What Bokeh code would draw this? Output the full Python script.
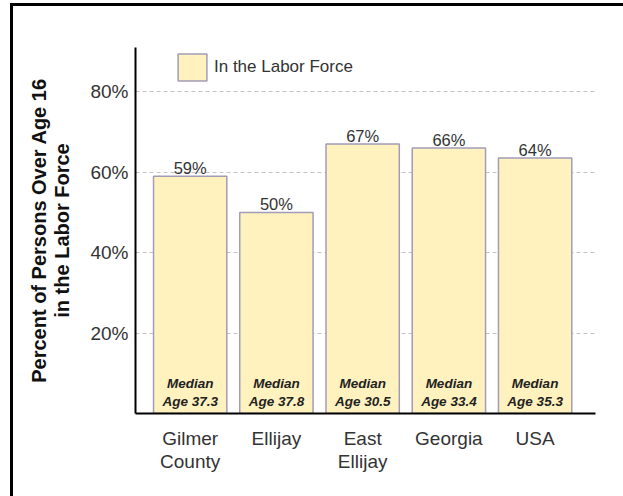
from bokeh.plotting import figure
from bokeh.models import ColumnDataSource, FixedTicker, Legend, LegendItem, Range1d
from bokeh.core.properties import value
from bokeh.embed import file_html
from bokeh.resources import INLINE

places = ["Gilmer\nCounty", "Ellijay", "East\nEllijay", "Georgia", "USA"]
labor_force_pct = [59, 50, 67, 66, 63.5]
pct_labels = ["59%", "50%", "67%", "66%", "64%"]
median_age = [37.3, 37.8, 30.5, 33.4, 35.3]
y_ticks = [20, 40, 60, 80]

xs = list(range(len(places)))
src = ColumnDataSource(dict(
    x=xs,
    pct=labor_force_pct,
    lbl=pct_labels,
    zero=[0] * len(xs),
    med=["Median\nAge %.1f" % a for a in median_age],
))

FONT = "Liberation Sans"

p = figure(width=610, height=490, output_backend="svg", toolbar_location=None,
           x_range=Range1d(-0.634, 4.70), y_range=Range1d(0, 91),
           frame_width=460, frame_height=366,
           min_border_left=122, min_border_top=41, min_border_right=28, min_border_bottom=83)
p.styles = {"border-left": "3px solid black", "border-top": "3px solid black",
            "margin-left": "10px", "margin-top": "3px"}
p.outline_line_color = None
p.background_fill_color = "white"
p.border_fill_color = "white"

bars = p.vbar(x="x", top="pct", width=0.85, source=src,
              fill_color="#FFF2BF", line_color="#A39CB8", line_width=1.5)

p.text(x="x", y="pct", text="lbl", source=src, text_align="center",
       text_baseline="bottom", y_offset=1, text_font=value(FONT),
       text_font_size="16.5px", text_color="#333333")
p.text(x="x", y="zero", text="med", source=src, text_align="center",
       text_baseline="bottom", y_offset=-5, text_font=value(FONT),
       text_font_size="13.5px", text_font_style="bold italic",
       text_color="#222222", text_line_height=1.2)

# axes
p.xaxis.ticker = FixedTicker(ticks=xs)
p.xaxis.major_label_overrides = {i: places[i] for i in xs}
p.yaxis.ticker = FixedTicker(ticks=y_ticks)
p.yaxis.major_label_overrides = {t: "%d%%" % t for t in y_ticks}
for ax in (p.xaxis[0], p.yaxis[0]):
    ax.axis_line_width = 2
    ax.axis_line_color = "black"
    ax.major_tick_out = 0
    ax.major_tick_in = 0
    ax.minor_tick_out = 0
    ax.minor_tick_in = 0
    ax.major_label_text_font = FONT
    ax.major_label_text_font_size = "19px"
    ax.major_label_text_color = "#333333"
p.xaxis.major_label_standoff = 14
p.xaxis.major_label_text_line_height = 1.1
p.yaxis.major_label_standoff = 7
p.yaxis.axis_label = "Percent of Persons Over Age 16\nin the Labor Force"
p.yaxis.axis_label_text_font = FONT
p.yaxis.axis_label_text_font_size = "20px"
p.yaxis.axis_label_text_font_style = "bold"
p.yaxis.axis_label_text_color = "#111111"
p.yaxis.axis_label_text_line_height = 1.05
p.yaxis.axis_label_standoff = 14

p.xgrid.grid_line_color = None
p.ygrid.grid_line_color = "#C4C4C4"
p.ygrid.grid_line_dash = "4 3"
p.ygrid.grid_line_width = 1

legend = Legend(items=[LegendItem(label="In the Labor Force", renderers=[bars])],
                location=(39, 329), glyph_width=36, glyph_height=34,
                padding=0, margin=0, label_standoff=4, border_line_color=None,
                background_fill_alpha=0,
                label_text_font=FONT, label_text_font_size="17px",
                label_text_color="#333333")
p.add_layout(legend)

open("out.html", "w").write(file_html(p, INLINE))
